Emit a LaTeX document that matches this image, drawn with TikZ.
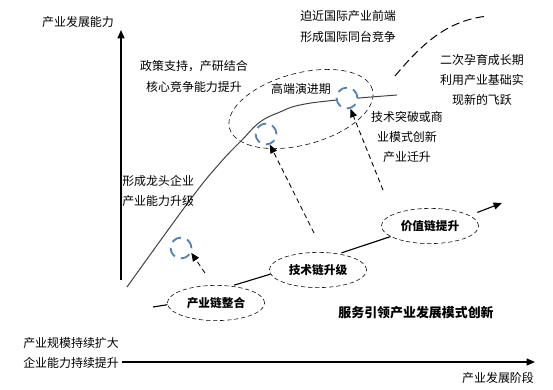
\documentclass[tikz,border=0pt]{standalone}
\usepackage{fontspec}
\setmainfont{Noto Sans CJK SC}
\usepackage{tikz}
\usetikzlibrary{arrows.meta,shapes.geometric}
\usepackage{xcolor}
\definecolor{ringblue}{RGB}{79,129,189}

\begin{document}
\begin{tikzpicture}[x=0.025cm, y=-0.025cm, >={Triangle[length=6pt,width=5pt]},
  txt/.style={inner sep=0, font=\fontsize{8.5}{14.5}\selectfont},
  chainbox/.style={draw, ellipse, dashed, dash pattern=on 3pt off 2pt, fill=white,
    inner sep=0, minimum width=2.43cm, minimum height=0.88cm,
    font=\fontsize{8.3}{10}\selectfont\bfseries},
  ring/.style={draw=ringblue, circle, fill=white, line width=1.3pt, inner sep=0,
    minimum size=0.52cm, dash pattern=on 7pt off 4.5pt},
  chainline/.style={line width=0.8pt},
  dasharrow/.style={->, dashed, dash pattern=on 3.5pt off 2.5pt, line width=0.6pt}]

\useasboundingbox (0,0) rectangle (553,389);

% Axes
\coordinate (yfoot) at (121,280);
\coordinate (ytop) at (121,30);
\coordinate (xfoot) at (122,362);
\coordinate (xtip) at (535,362);
\draw[->, line width=0.9pt] (yfoot) -- (ytop);
\draw[->, line width=0.9pt] (xfoot) -- (xtip);
\node[txt] (ylabel) at (78,22) {产业发展能力};
\node[txt] (xlabel) at (498,378) {产业发展阶段};

% High-end stage ellipse and growth curve
\node[draw, ellipse, dashed, dash pattern=on 3.5pt off 2.5pt, rotate=15,
  minimum width=3.7cm, minimum height=1.79cm] (highstage) at (301,109) {};
\draw[black!75, line width=0.7pt] plot[smooth, tension=0.7] coordinates
  {(127,287) (190,200) (220,163) (242,140) (260,122) (280,112) (300,105) (337,100) (397,95)};
\draw[dashed, dash pattern=on 6pt off 3pt, line width=0.7pt]
  (395,76) .. controls (425,40) and (450,20) .. (488,16);

% Chain of service-led innovation
\coordinate (chainin) at (153,307);
\coordinate (chainout) at (502,203);
\node[chainbox] (zhenghe) at (216,303) {产业链整合};
\node[chainbox] (jishu) at (318,270) {技术链升级};
\node[chainbox] (jiazhi) at (430,226) {价值链提升};
\draw[chainline] (chainin) -- (zhenghe.182);
\draw[chainline, shorten <=2pt] (zhenghe.48) -- (jishu.185);
\draw[chainline, shorten <=2pt] (jishu.38) -- (jiazhi.195);
\draw[chainline, ->, shorten <=6pt] (jiazhi.15) -- (chainout);

% Rings on the curve
\node[ring] (ring1) at (181,248) {};
\node[ring] (ring2) at (266,134) {};
\node[ring] (ring3) at (347,98) {};
\coordinate (tail1) at (205,273);
\coordinate (tail2) at (314,233);
\coordinate (tail3) at (383,190);
\draw[dasharrow] (tail1) -- (ring1.-25);
\draw[dasharrow] (tail2) -- (ring2.-70);
\draw[dasharrow] (tail3) -- (ring3.-72);

% Texts
\node[txt, align=center] (policy) at (194,76.5) {政策支持，产研结合\\核心竞争能力提升};
\node[txt] (highlabel) at (301,89) {高端演进期};
\node[txt, align=left, anchor=west] (frontier) at (300,26.5) {迫近国际产业前端\\形成国际同台竞争};
\node[txt, align=center] (second) at (482,80) {二次孕育成长期\\利用产业基础实\\现新的飞跃};
\node[txt, align=center] (breakthrough) at (407,137) {技术突破或商\\业模式创新\\产业迁升};
\node[txt, align=left, anchor=west] (leader) at (122,191) {形成龙头企业\\产业能力升级};
\node[txt, align=left, anchor=west] (scale) at (23,353) {产业规模持续扩大\\企业能力持续提升};
\node[txt, font=\fontsize{9.2}{11}\selectfont\bfseries] (mode) at (416,313) {服务引领产业发展模式创新};

\end{tikzpicture}
\end{document}
